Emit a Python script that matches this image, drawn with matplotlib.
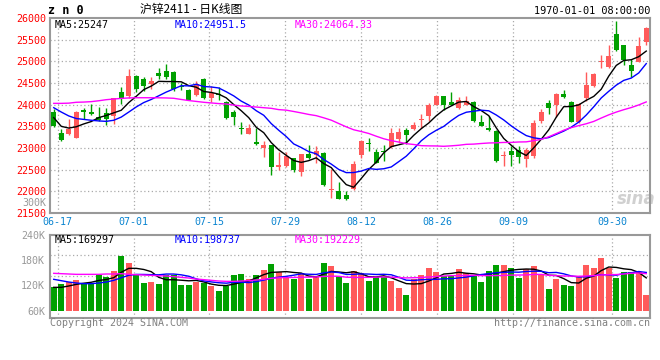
import numpy as np
import pandas as pd
import matplotlib
matplotlib.use('Agg')
import matplotlib.pyplot as plt

# daily K-line of zn2411, 80 sessions
open_ = [23824, 23336, 23313, 23237, 23885, 23839, 23717, 23808, 23740, 24296,
         24205, 24669, 24601, 24487, 24730, 24776, 24746, 24441, 24349, 24212,
         24593, 24144, 24242, 24060, 23831, 23465, 23321, 23138, 23008, 23062,
         22551, 22582, 22765, 22452, 22856, 22848, 22887, 22026, 22010, 21919,
         22056, 22833, 23115, 22902, 22932, 23024, 23199, 23405, 23435, 23656,
         23732, 23999, 24189, 24060, 23923, 23999, 24052, 23610, 23465, 23382,
         22825, 22932, 22955, 22749, 22818, 23633, 24045, 23984, 24250, 24067,
         23595, 24151, 24441, 24974, 24875, 25637, 25370, 24913, 24989, 25447]
high = [23900, 23443, 23671, 23860, 23923, 24014, 23953, 23923, 24150, 24403,
        24829, 24685, 24639, 24647, 24837, 24936, 24776, 24509, 24365, 24547,
        24624, 24426, 24410, 24090, 23869, 23603, 23557, 23465, 23161, 23077,
        22917, 22917, 22780, 22871, 23062, 23054, 22902, 22505, 22208, 22002,
        22703, 23191, 23237, 22985, 23062, 23450, 23450, 23450, 23603, 23793,
        24037, 24227, 24205, 24288, 24182, 24189, 24075, 23770, 23747, 23405,
        22932, 23054, 23047, 23008, 23656, 23907, 24106, 24258, 24342, 24090,
        24045, 24746, 24731, 25157, 25370, 25942, 25386, 25050, 25553, 25790]
low = [23490, 23153, 23298, 23220, 23679, 23770, 23618, 23526, 23564, 24022,
       24159, 24288, 24304, 24365, 24586, 24593, 24319, 24334, 24106, 24197,
       24128, 24060, 24106, 23680, 23526, 23313, 23313, 23069, 22795, 22383,
       22490, 22566, 22437, 22353, 22749, 22643, 22124, 21850, 21812, 21789,
       22033, 22780, 22932, 22643, 22703, 23008, 23115, 23085, 23420, 23465,
       23633, 23984, 23885, 23984, 23908, 23984, 23603, 23504, 23389, 22688,
       22589, 22582, 22665, 22566, 22780, 23580, 23778, 23709, 24151, 23595,
       23580, 24075, 24418, 24837, 24837, 25241, 24913, 24631, 24974, 25370]
close = [23504, 23184, 23427, 23839, 23824, 23778, 23641, 23671, 24144, 24121,
         24662, 24365, 24441, 24555, 24669, 24639, 24365, 24410, 24113, 24487,
         24144, 24258, 24212, 23686, 23709, 23435, 23458, 23100, 23062, 22566,
         22604, 22818, 22498, 22856, 22765, 22932, 22147, 22040, 21827, 21827,
         22627, 23161, 23085, 22658, 22909, 23344, 23374, 23298, 23542, 23671,
         23999, 24205, 23984, 23999, 24106, 24075, 23618, 23519, 23412, 22703,
         22848, 22833, 22795, 22955, 23588, 23839, 23923, 24250, 24167, 23610,
         24022, 24456, 24700, 24997, 25119, 25256, 25028, 24784, 25348, 25767]
volume = [115300, 123200, 127900, 132700, 126400, 126400, 144500, 139800, 154000, 190300,
          173000, 144500, 126400, 127900, 123200, 144500, 144500, 120800, 120800, 127900,
          126400, 119200, 106600, 117700, 144500, 146900, 135000, 144500, 156400, 170600,
          151600, 139800, 134300, 149300, 135000, 142100, 173000, 165800, 142100, 126400,
          154000, 149300, 130300, 139800, 139800, 130300, 113700, 97100, 135000, 144500,
          161100, 151600, 142100, 142100, 158700, 149300, 144500, 127900, 154000, 168200,
          168200, 161100, 137400, 158700, 165800, 146900, 111300, 135000, 120800, 118500,
          142100, 168200, 161100, 184800, 161100, 137400, 151600, 151600, 151600, 96300]

# moving-average values before enough sessions are in view
ma5_head = [23700, 23500, 23460, 23490]
ma10_head = [23930, 23830, 23740, 23680, 23660, 23640, 23625, 23615, 23640]
ma30_head = [24030, 24030, 24035, 24055, 24060, 24070, 24090, 24115, 24130, 24145,
             24155, 24160, 24160, 24160, 24158, 24155, 24147, 24120, 24095, 24075,
             24055, 24040, 24025, 24015, 23990, 23970, 23960, 23945, 23930]
vma5_head = [115300, 115300, 118500, 122400]
vma10_head = [134300, 131100, 127900, 125600, 124000, 124000, 125600, 127900, 131900]
vma30_head = [148500, 147700, 146900, 146100, 146100, 146100, 146100, 146900, 146900, 147700,
              146100, 145300, 144500, 143700, 142900, 142100, 140600, 139000, 137400, 135000,
              133500, 131900, 130300, 129500, 129500, 130300, 131100, 132700, 134300]

tick_dates = ['06-17', '07-01', '07-15', '07-29', '08-12', '08-26', '09-09', '09-30']
price_ticks = [21500, 22000, 22500, 23000, 23500, 24000, 24500, 25000, 25500, 26000]
vol_ticks = [60000, 120000, 180000, 240000]
vol_labels = ['60K', '120K', '180K', '240K']

RED = '#ff5a5a'
GREEN = '#00a000'
GRID = '#aaaaaa'
FRAME = '#999999'
MONO = 'DejaVu Sans Mono'

days = pd.bdate_range('2024-06-14', '2024-10-14')
holidays = pd.to_datetime(['2024-09-16', '2024-09-17', '2024-10-01', '2024-10-02',
                           '2024-10-03', '2024-10-04', '2024-10-07'])
days = days[~days.isin(holidays)]
labels = list(days.strftime('%m-%d'))
n = len(labels)
x = np.arange(n)


def moving_avg(vals, w, head):
    out = pd.Series(vals, dtype=float).rolling(w).mean().to_numpy()
    out[:w - 1] = head
    return out


o = np.array(open_, dtype=float)
c = np.array(close, dtype=float)
v = np.array(volume, dtype=float)
up = c >= o
colors = np.where(up, RED, GREEN)

fig = plt.figure(figsize=(6.6, 3.6), dpi=100)
ax = fig.add_axes([50 / 660, 1 - 213 / 360, 600 / 660, 195 / 360])
axv = fig.add_axes([50 / 660, 1 - 317.7 / 360, 600 / 660, 83 / 360])

# gridlines: date lines use sina's own spacing (n-1 steps across the width)
grid_x = [labels.index(d) * n / (n - 1) - 0.5 for d in tick_dates]
for a in (ax, axv):
    for gx in grid_x:
        a.axvline(gx, color=GRID, lw=0.9, ls=(0, (1, 2)), zorder=0)
    for s in a.spines.values():
        s.set_color(FRAME)
        s.set_linewidth(1.5)
    a.set_xlim(-0.5, n - 0.5)
    a.tick_params(length=0)

for p in price_ticks[1:-1]:
    ax.axhline(p, color=GRID, lw=0.9, ls=(0, (1, 2)), zorder=0)

# candles
body_lo = np.minimum(o, c)
body_h = np.maximum(np.abs(c - o), 18)
ax.vlines(x, low, high, colors=colors, lw=1, zorder=2)
ax.bar(x, body_h, bottom=body_lo, width=0.72, color=colors, zorder=3)

ax.plot(x, moving_avg(c, 5, ma5_head), color='black', lw=1, zorder=4)
ax.plot(x, moving_avg(c, 10, ma10_head), color='#0000ff', lw=1, zorder=4)
ax.plot(x, moving_avg(c, 30, ma30_head), color='#ff00ff', lw=1, zorder=4)

ax.set_ylim(21500, 26000)
ax.set_yticks(price_ticks)
ax.set_yticklabels([str(p) for p in price_ticks], color='#ff0000',
                   fontsize=7.2, family=MONO)
ax.set_xticks(grid_x)
ax.set_xticklabels(tick_dates, color='#0a84d0', fontsize=7.2, family=MONO)
ax.tick_params(axis='y', pad=3)
ax.tick_params(axis='x', pad=3)

ax.text(5 / 600, 0.965, 'MA5:25247', transform=ax.transAxes, fontsize=7.2,
        family=MONO, color='black', va='center')
ax.text(125 / 600, 0.965, 'MA10:24951.5', transform=ax.transAxes, fontsize=7.2,
        family=MONO, color='#0000ff', va='center')
ax.text(245 / 600, 0.965, 'MA30:24064.33', transform=ax.transAxes, fontsize=7.2,
        family=MONO, color='#ff00ff', va='center')
ax.text(0.977, 0.07, 'sina', transform=ax.transAxes, fontsize=12, style='italic',
        weight='bold', color='#d0d0d0', ha='center', va='center', zorder=1)

# volume
vlo, vhi = 43400, 240000
for gy in np.linspace(vlo, vhi, 5)[1:-1]:
    axv.axhline(gy, color=GRID, lw=0.9, ls=(0, (1, 2)), zorder=0)
axv.bar(x, v - vol_ticks[0], bottom=vol_ticks[0], width=0.82, color=colors, zorder=2)
axv.plot(x, moving_avg(v, 5, vma5_head), color='black', lw=1, zorder=3)
axv.plot(x, moving_avg(v, 10, vma10_head), color='#0000ff', lw=1, zorder=3)
axv.plot(x, moving_avg(v, 30, vma30_head), color='#ff00ff', lw=1, zorder=3)
axv.set_ylim(vlo, vhi)
axv.set_yticks(vol_ticks)
axv.set_yticklabels(vol_labels, color='#999999', fontsize=7.2, family=MONO)
axv.set_xticks([])

axv.text(5 / 600, 0.94, 'MA5:169297', transform=axv.transAxes, fontsize=7.2,
         family=MONO, color='black', va='center')
axv.text(125 / 600, 0.94, 'MA10:198737', transform=axv.transAxes, fontsize=7.2,
         family=MONO, color='#0000ff', va='center')
axv.text(245 / 600, 0.94, 'MA30:192229', transform=axv.transAxes, fontsize=7.2,
         family=MONO, color='#ff00ff', va='center')

# header / footer
fig.text(48 / 660, 1 - 11 / 360, 'z n 0', fontsize=8.5, family=MONO, weight='bold',
         va='center')
fig.text(140 / 660, 1 - 10 / 360, '沪锌2411 - 日K线图', fontsize=8.5,
         family=['Noto Sans CJK SC', 'DejaVu Sans'], va='center')
fig.text(650 / 660, 1 - 11 / 360, '1970-01-01 08:00:00', fontsize=7.4, family=MONO,
         ha='right', va='center')
fig.text(46 / 660, 1 - 203 / 360, '300K', fontsize=7.2, family=MONO, color='#999999',
         ha='right', va='center')
fig.text(50 / 660, 1 - 323.5 / 360, 'Copyright 2024 SINA.COM', fontsize=7.2,
         family=MONO, color='#808080', va='center')
fig.text(650 / 660, 1 - 323.5 / 360, 'http://finance.sina.com.cn', fontsize=7.2,
         family=MONO, color='#808080', ha='right', va='center')

fig.savefig('out.png', dpi=100, facecolor='white')
